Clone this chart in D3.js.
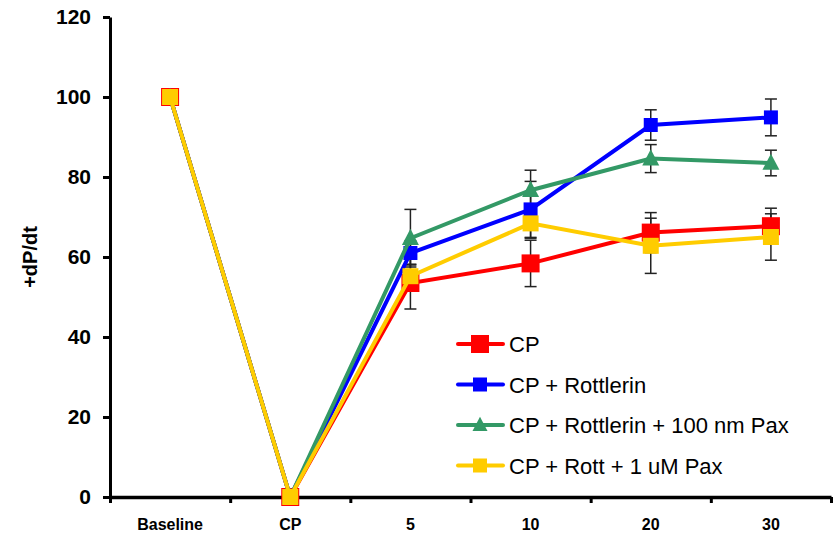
<!DOCTYPE html>
<html>
<head>
<meta charset="utf-8">
<script src="https://cdn.jsdelivr.net/npm/d3@7"></script>
<style>
  body { margin: 0; background: #fff; }
  svg { font-family: "Liberation Sans", Arial, sans-serif; }
</style>
</head>
<body>
<div id="chart"></div>
<script>
// categories on the x axis
var categories = ['Baseline', 'CP', '5', '10', '20', '30'];
var yTicks = [0, 20, 40, 60, 80, 100, 120];

// series values
var cpVals     = [100, 0, 53.5, 58.4, 66.1, 67.7];
var cpErr      = [0, 0, 6.5, 5.8, 5.0, 4.5];
var rotVals    = [100, 0, 61.0, 71.9, 93.0, 94.9];
var rotErr     = [0, 0, 3.0, 7.0, 3.8, 4.6];
var paxVals    = [100, 0, 64.7, 76.7, 84.6, 83.5];
var paxErr     = [0, 0, 7.2, 5.0, 3.5, 3.2];
var pax1Vals   = [100, 0, 55.2, 68.4, 62.8, 65.0];
var pax1Err    = [0, 0, 3.0, 3.7, 6.9, 5.8];

var seriesNames = ['CP', 'CP + Rottlerin', 'CP + Rottlerin + 100 nm Pax', 'CP + Rott + 1 uM Pax'];

var series = [
    { name: seriesNames[0], vals: cpVals,   err: cpErr,   color: '#FF0000', shape: 'square', size: 18, lsize: 18 },
    { name: seriesNames[1], vals: rotVals,  err: rotErr,  color: '#0000FF', shape: 'square', size: 14, lsize: 14 },
    { name: seriesNames[2], vals: paxVals,  err: paxErr,  color: '#339966', shape: 'triangle', size: 17, lsize: 15 },
    { name: seriesNames[3], vals: pax1Vals, err: pax1Err, color: '#FFCC00', shape: 'square', size: 16, lsize: 14 }
];

var width = 834, height = 540;

var x = d3.scaleBand()
    .domain(categories)
    .range([110, 831]);

var xEdge = d3.scaleLinear()
    .domain([0, categories.length])
    .range([110, 831]);

var y = d3.scaleLinear()
    .domain([0, 120])
    .range([497, 17]);

function cx(i) { return x(categories[i]) + x.bandwidth() / 2; }

var svg = d3.select('#chart').append('svg')
    .attr('width', width)
    .attr('height', height);

// y axis
var yAxis = svg.append('g')
    .attr('transform', 'translate(110,0)')
    .call(d3.axisLeft(y).tickValues(yTicks).tickSize(7).tickSizeOuter(0).tickPadding(12));
yAxis.select('.domain').attr('stroke-width', 3);
yAxis.selectAll('.tick line').attr('stroke-width', 3);
yAxis.selectAll('.tick text')
    .style('font-size', '21px')
    .style('font-weight', 'bold')
    .attr('fill', '#000');

// x axis: ticks at category boundaries
var xAxis = svg.append('g')
    .attr('transform', 'translate(0,497)')
    .call(d3.axisBottom(xEdge).ticks(categories.length).tickSize(6).tickSizeOuter(0).tickFormat(''));
xAxis.select('.domain').attr('stroke-width', 3.5);
xAxis.selectAll('.tick line').attr('stroke-width', 3);

// x labels
var xLabels = svg.append('g')
    .attr('transform', 'translate(0,497)')
    .call(d3.axisBottom(x).tickSize(0).tickPadding(22));
xLabels.select('.domain').remove();
xLabels.selectAll('.tick text')
    .style('font-size', '16px')
    .style('font-weight', 'bold')
    .attr('fill', '#000');

// y title
svg.append('text')
    .attr('transform', 'translate(37,257) rotate(-90)')
    .attr('text-anchor', 'middle')
    .style('font-size', '20px')
    .style('font-weight', 'bold')
    .text('+dP/dt');

// error bars (behind)
var errG = svg.append('g');
series.forEach(function(s) {
    s.vals.forEach(function(v, i) {
        if (!s.err[i]) return;
        var xx = cx(i);
        errG.append('line')
            .attr('x1', xx).attr('x2', xx)
            .attr('y1', y(v + s.err[i])).attr('y2', y(v - s.err[i]))
            .attr('stroke', '#222').attr('stroke-width', 1.5);
        [v + s.err[i], v - s.err[i]].forEach(function(e) {
            errG.append('line')
                .attr('x1', xx - 6).attr('x2', xx + 6)
                .attr('y1', y(e)).attr('y2', y(e))
                .attr('stroke', '#222').attr('stroke-width', 1.5);
        });
    });
});

var line = d3.line()
    .x(function(d, i) { return cx(i); })
    .y(function(d) { return y(d); });

function marker(g, s, px, py, size) {
    if (s.shape === 'square') {
        g.append('rect')
            .attr('x', px - size / 2).attr('y', py - size / 2)
            .attr('width', size).attr('height', size)
            .attr('fill', s.color);
    } else {
        g.append('path')
            .attr('d', 'M' + px + ',' + (py - size * 0.55) +
                'L' + (px + size / 2) + ',' + (py + size * 0.4) +
                'L' + (px - size / 2) + ',' + (py + size * 0.4) + 'Z')
            .attr('fill', s.color);
    }
}

series.forEach(function(s) {
    var g = svg.append('g');
    g.append('path')
        .datum(s.vals)
        .attr('d', line)
        .attr('fill', 'none')
        .attr('stroke', s.color)
        .attr('stroke-width', 4);
    s.vals.forEach(function(v, i) {
        marker(g, s, cx(i), y(v), s.size);
    });
});

// legend
var legend = svg.append('g');
series.forEach(function(s, i) {
    var ly = 344 + i * 40.5;
    legend.append('line')
        .attr('x1', 458).attr('x2', 503)
        .attr('y1', ly).attr('y2', ly)
        .attr('stroke', s.color).attr('stroke-width', 4)
        .attr('stroke-linecap', 'round');
    marker(legend, s, 480, ly, s.lsize);
    legend.append('text')
        .attr('x', 509).attr('y', ly + 8)
        .style('font-size', '22px')
        .text(s.name);
});
</script>
</body>
</html>
